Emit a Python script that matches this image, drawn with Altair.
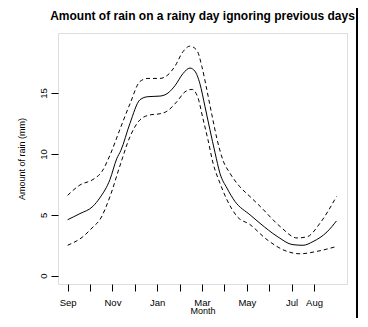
import altair as alt
import pandas as pd

# ---- data (x in months since 1 Sep) ----
tick_months = list(range(12))
tick_labels = ["Sep", "", "Nov", "", "Jan", "", "Mar", "", "May", "", "Jul", "Aug"]
y_ticks = [0, 5, 10, 15]
title_text = ["Amount of rain on a rainy day ignoring previous days"]

mean_x = [0.0, 0.55, 1.13, 1.44, 1.89, 2.19, 2.38, 2.78, 3.23, 3.58, 4.12, 4.48, 4.79,
          5.15, 5.46, 5.68, 5.90, 6.13, 6.35, 6.58, 6.80, 7.11, 7.47, 8.14, 8.59,
          9.35, 10.06, 10.51, 10.95, 11.58, 12.0]
mean_y = [4.6, 5.1, 5.7, 6.4, 7.9, 9.6, 10.3, 12.5, 14.45, 14.7, 14.75, 15.0, 15.6,
          16.6, 17.05, 16.8, 15.8, 13.9, 12.0, 10.1, 8.4, 7.2, 6.1, 5.0, 4.3,
          3.23, 2.55, 2.5, 2.8, 3.6, 4.5]

upper_x = [0.0, 0.55, 1.13, 1.53, 1.89, 2.33, 2.78, 3.23, 3.58, 4.12, 4.48, 4.79,
           5.15, 5.46, 5.77, 5.99, 6.21, 6.44, 6.67, 6.93, 7.25, 7.69, 8.14, 8.59,
           9.48, 10.24, 10.69, 11.26, 12.0]
upper_y = [6.6, 7.45, 7.9, 8.55, 9.9, 12.0, 14.1, 15.95, 16.2, 16.2, 16.5, 17.2,
           18.4, 18.85, 18.5, 17.2, 15.3, 13.2, 11.2, 9.5, 8.4, 7.3, 6.5, 5.7,
           4.05, 3.1, 3.2, 4.3, 6.5]

lower_x = [0.0, 0.68, 1.13, 1.44, 1.89, 2.33, 2.78, 3.23, 3.67, 4.12, 4.43, 4.88,
           5.24, 5.55, 5.82, 6.04, 6.26, 6.49, 6.80, 7.11, 7.56, 8.14, 8.90,
           9.79, 10.37, 11.13, 12.0]
lower_y = [2.5, 3.2, 4.0, 4.6, 6.5, 9.0, 11.4, 12.8, 13.2, 13.3, 13.5, 14.3,
           15.1, 15.3, 14.6, 12.9, 11.2, 9.25, 7.6, 6.24, 4.87, 4.2, 2.96,
           2.0, 1.8, 2.0, 2.4]

mean_df = pd.DataFrame({"month": mean_x, "rain": mean_y})
upper_df = pd.DataFrame({"month": upper_x, "rain": upper_y})
lower_df = pd.DataFrame({"month": lower_x, "rain": lower_y})
title_df = pd.DataFrame({"t": title_text})

FONT = "Liberation Sans"
label_expr = "[" + ",".join("'%s'" % t for t in tick_labels) + "][datum.value]"

x_enc = alt.X(
    "month:Q",
    scale=alt.Scale(domain=[-0.43, 12.47], nice=False, zero=False),
    axis=alt.Axis(
        title="Month", values=tick_months, labelExpr=label_expr,
        domain=False, grid=False, tickSize=7, tickColor="black",
        labelFontSize=9.5, labelColor="black", labelPadding=6,
        labelFont=FONT, titleFont=FONT, titleFontSize=9,
        titleFontWeight="normal", titleColor="black", titlePadding=0,
        labelOverlap=False, labelFlush=False,
    ),
)
y_enc = alt.Y(
    "rain:Q",
    scale=alt.Scale(domain=[-0.68, 19.93], nice=False, zero=False),
    axis=alt.Axis(
        title="Amount of rain (mm)", values=y_ticks,
        domain=False, grid=False, tickSize=7, tickColor="black",
        labelAngle=270, labelAlign="center", labelBaseline="bottom",
        labelFontSize=9.5, labelColor="black", labelPadding=3,
        labelFont=FONT, titleFont=FONT, titleFontSize=9,
        titleFontWeight="normal", titleColor="black", titlePadding=12,
        labelOverlap=False,
    ),
)

mean_line = alt.Chart(mean_df).mark_line(
    color="black", strokeWidth=1, interpolate="monotone"
).encode(x=x_enc, y=y_enc)

upper_line = alt.Chart(upper_df).mark_line(
    color="black", strokeWidth=1, strokeDash=[4, 3], interpolate="monotone"
).encode(x=x_enc, y=y_enc)

lower_line = alt.Chart(lower_df).mark_line(
    color="black", strokeWidth=1, strokeDash=[4, 3], interpolate="monotone"
).encode(x=x_enc, y=y_enc)

side_rule = alt.Chart(mean_df).mark_rule(color="black", strokeWidth=2).encode(
    x=alt.value(299), y=alt.value(-30), y2=alt.value(300)
)

title_mark = alt.Chart(title_df).mark_text(
    font=FONT, fontSize=12, fontWeight="bold", color="black",
    align="center", baseline="middle",
).encode(text="t:N", x=alt.value(144.5), y=alt.value(-17.5))

chart = (
    alt.layer(mean_line, upper_line, lower_line, side_rule, title_mark)
    .properties(
        width=289,
        height=251,
        autosize=alt.AutoSizeParams(type="none"),
        padding={"left": 50, "top": 25, "right": 13, "bottom": 34},
    )
    .configure_view(stroke="black", strokeWidth=1)
    .configure_axis(labelOverlap=False)
    .configure(background="white")
)

chart.save("out.html", embed_options={"renderer": "svg", "actions": False})
